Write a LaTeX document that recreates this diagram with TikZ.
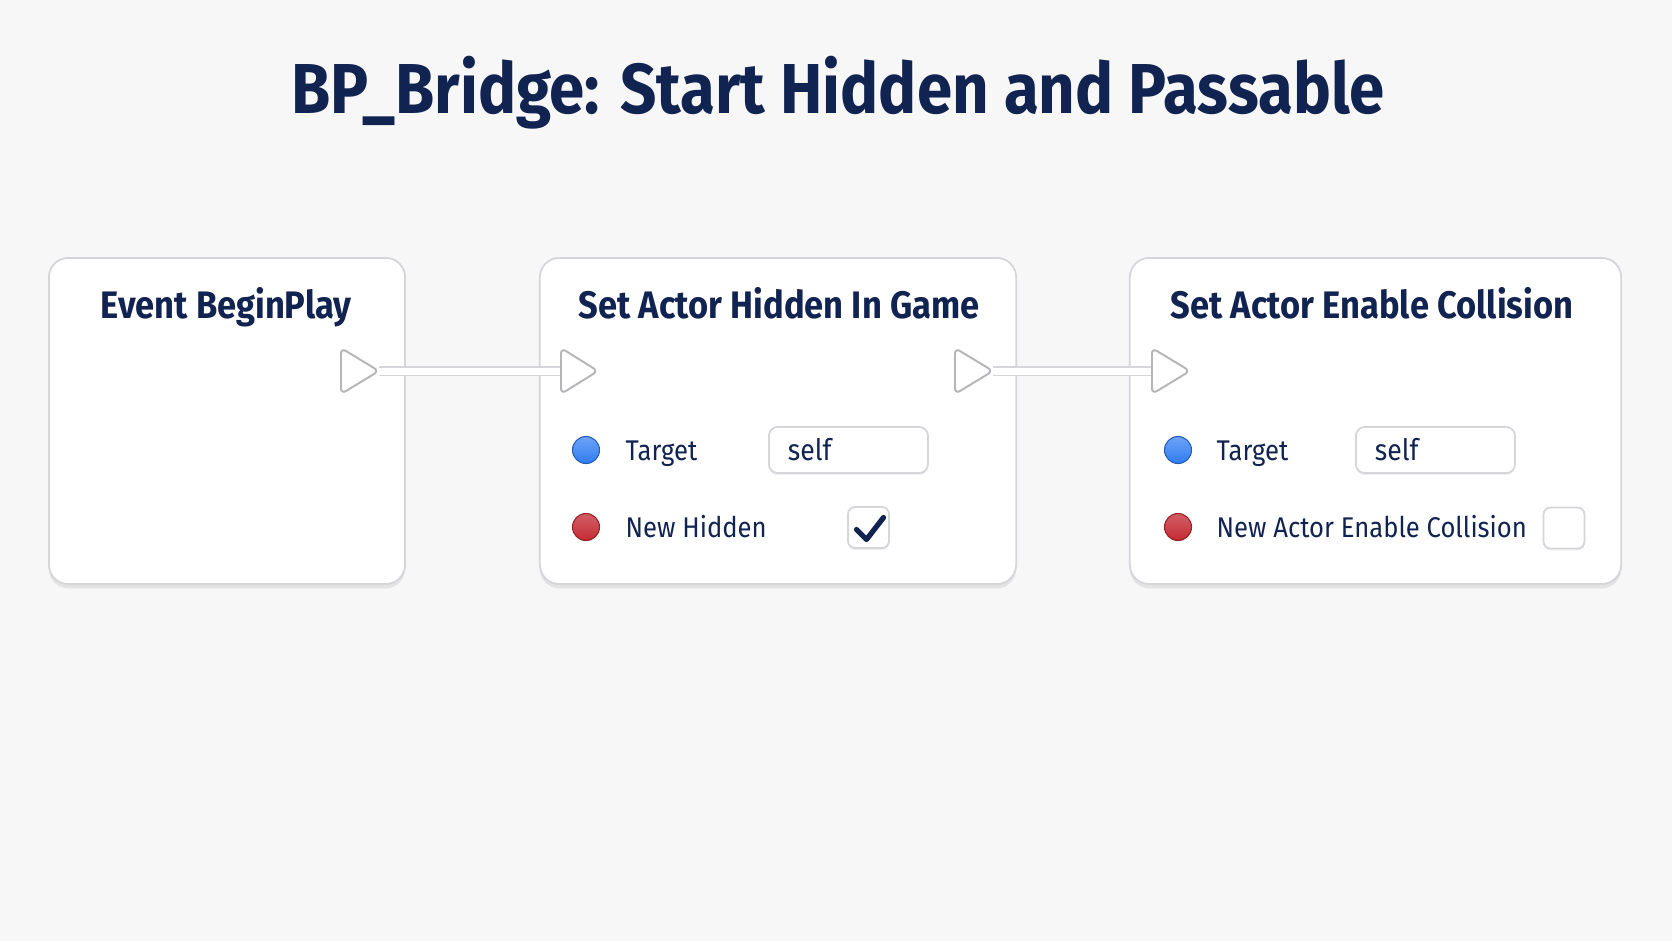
\documentclass[tikz,border=0pt]{standalone}
\usepackage{fontspec}
\setmainfont{Fira Sans}[FakeStretch=0.9]
\usetikzlibrary{shadows}

\definecolor{ink}{HTML}{112350}
\definecolor{paper}{HTML}{F7F7F8}
\definecolor{rim}{HTML}{D6D6DA}
\definecolor{pinblue}{HTML}{2F7CF2}
\definecolor{pinred}{HTML}{C42A33}

\tikzstyle{nodebox}=[draw=rim,line width=0.5pt,fill=white,rounded corners=5.5pt,inner sep=0pt,
  drop shadow={opacity=0.16,shadow xshift=0pt,shadow yshift=-1.2pt}]
\tikzstyle{heading}=[anchor=base west,inner sep=0pt,text=ink,font=\fontsize{10.9}{12}\selectfont\bfseries]
\tikzstyle{execpin}=[draw=rim!85!black,fill=white,line width=0.55pt,rounded corners=1.6pt]
\tikzstyle{wire}=[draw=rim,double=white,double distance=2pt,line width=0.45pt]
\tikzstyle{bluepin}=[circle,minimum size=0.27cm,inner sep=0pt,draw=pinblue!75!black,line width=0.3pt,
  top color=pinblue!70!white,bottom color=pinblue]
\tikzstyle{redpin}=[circle,minimum size=0.27cm,inner sep=0pt,draw=pinred!75!black,line width=0.3pt,
  top color=pinred!75!white,bottom color=pinred]
\tikzstyle{pinlabel}=[anchor=base west,inner sep=0pt,text=ink,font=\fontsize{8.1}{10}\selectfont]
\tikzstyle{valuebox}=[draw=rim,fill=white,line width=0.5pt,rounded corners=2.5pt,anchor=west,
  minimum height=0.46cm,text width=1.21cm,inner xsep=0.19cm,inner ysep=0pt,align=left,
  text=ink,font=\fontsize{8.4}{10}\selectfont,drop shadow={opacity=0.12,shadow xshift=0pt,shadow yshift=-0.6pt}]
\tikzstyle{checkbox}=[draw=rim,fill=white,line width=0.5pt,rounded corners=2pt,minimum size=0.41cm,inner sep=0pt,
  drop shadow={opacity=0.12,shadow xshift=0pt,shadow yshift=-0.6pt}]
\tikzstyle{tick}=[draw=ink,line width=1.5pt,line cap=round,line join=round]

\begin{document}
\begin{tikzpicture}[x=0.01cm,y=-0.01cm]

   \fill[paper] (0,0) rectangle (1672,941);
   \useasboundingbox (0,0) rectangle (1672,941);

   \node[anchor=base,inner sep=0pt,text=ink,font=\fontsize{20.1}{22}\selectfont\bfseries] (title) at (838,113)
     {BP\_Bridge: Start Hidden and Passable};

   % the three blueprint nodes
   \node[nodebox,minimum width=3.56cm,minimum height=3.26cm] (beginplay) at (227,421) {};
   \node[nodebox,minimum width=4.76cm,minimum height=3.26cm] (hidden) at (778,421) {};
   \node[nodebox,minimum width=4.91cm,minimum height=3.26cm] (collision) at (1375.5,421) {};

   \node[heading] (beginplay title) at (100,318) {Event BeginPlay};
   \node[heading] (hidden title) at (578,318) {Set Actor Hidden In Game};
   \node[heading] (collision title) at (1170,318) {Set Actor Enable Collision};

   % exec wires
   \coordinate (bp out) at (379,371);
   \coordinate (hid in) at (561,371);
   \coordinate (hid out) at (993,371);
   \coordinate (col in) at (1152,371);

   \draw[wire] (bp out) -- (hid in);
   \draw[wire] (hid out) -- (col in);

   \draw[execpin] (bp out) ++(-38,0) -- ++(0,-23) -- ++(38,23) -- ++(-38,23) -- cycle;
   \draw[execpin] (hid in) -- ++(0,-23) -- ++(37,23) -- ++(-37,23) -- cycle;
   \draw[execpin] (hid out) ++(-38,0) -- ++(0,-23) -- ++(38,23) -- ++(-38,23) -- cycle;
   \draw[execpin] (col in) -- ++(0,-23) -- ++(38,23) -- ++(-38,23) -- cycle;

   % pins of Set Actor Hidden In Game
   \node[bluepin] (hid target) at (586,450) {};
   \node[pinlabel] (hid target label) at (625,460) {Target};
   \node[valuebox] (hid self) at (768,450) {self};
   \node[redpin] (hid new) at (586,527) {};
   \node[pinlabel] (hid new label) at (625,537) {New Hidden};
   \node[checkbox] (hid check) at (868.5,527.5) {};
   \draw[tick] (hid check.center) ++(-12,2) -- ++(10,10) -- ++(17,-22);

   % pins of Set Actor Enable Collision
   \node[bluepin] (col target) at (1178,450) {};
   \node[pinlabel] (col target label) at (1216,460) {Target};
   \node[valuebox] (col self) at (1355,450) {self};
   \node[redpin] (col new) at (1178,527) {};
   \node[pinlabel] (col new label) at (1216,537) {New Actor Enable Collision};
   \node[checkbox] (col check) at (1564,528) {};

\end{tikzpicture}
\end{document}
